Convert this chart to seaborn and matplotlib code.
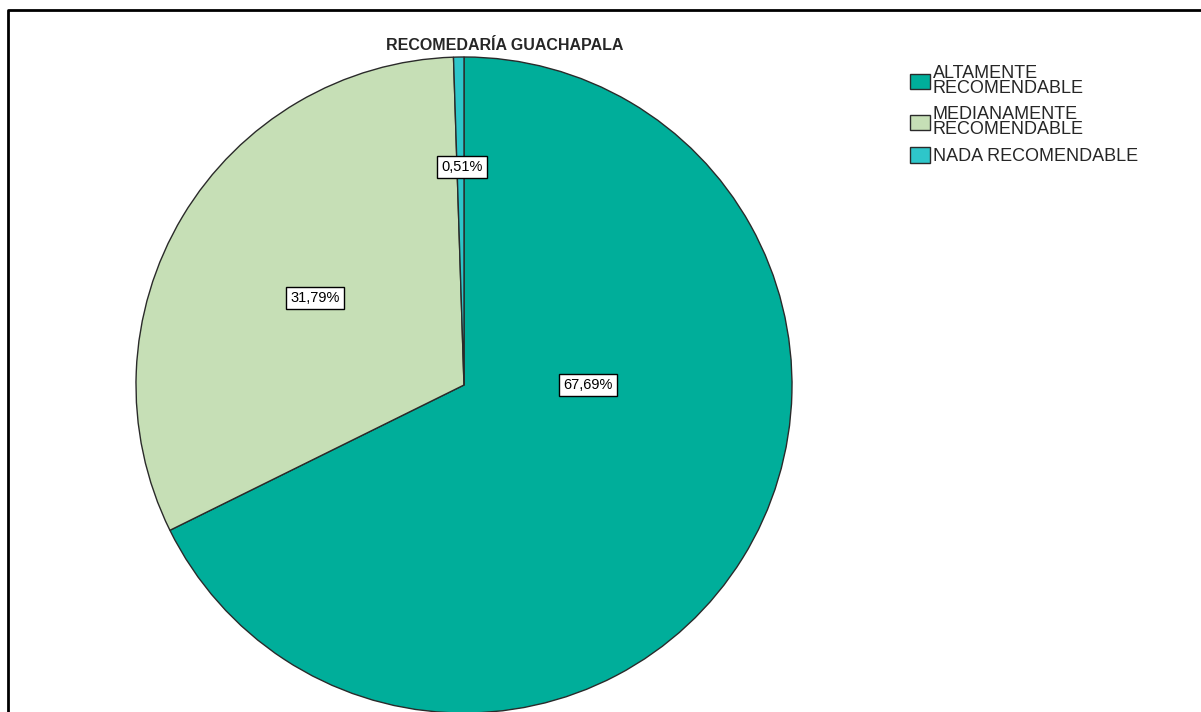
import matplotlib
matplotlib.use("Agg")
import matplotlib.pyplot as plt
import seaborn as sns

# Data
categories = ["ALTAMENTE\nRECOMENDABLE", "MEDIANAMENTE\nRECOMENDABLE", "NADA RECOMENDABLE"]
percentages = [67.69, 31.79, 0.51]
colors = ["#00AE9A", "#C6DFB6", "#2EC6CA"]
title = "RECOMEDARÍA GUACHAPALA"

# Set seaborn style, then fonts
sns.set_style("white")
plt.rcParams["font.family"] = ["Liberation Sans", "DejaVu Sans"]

W, H = 1201, 712
fig = plt.figure(figsize=(W / 100, H / 100), dpi=100)
ax = fig.add_axes([0, 0, 1, 1])

# Pie in pixel units
cx, cy, r = 464, H - 385, 328
wedges, _ = ax.pie(percentages, colors=colors, startangle=90, counterclock=False,
                   center=(cx, cy), radius=r, frame=True,
                   wedgeprops=dict(edgecolor="#2a2a2a", linewidth=1))
ax.set_xlim(0, W)
ax.set_ylim(0, H)
ax.set_aspect("equal")
ax.axis("off")

# Percentage labels (offsets from centre, in pixels)
label_offsets = [(124, 0), (-149, 87), (-2, 218)]
for pct, (dx, dy) in zip(percentages, label_offsets):
    ax.text(cx + dx, cy + dy, f"{pct:.2f}%".replace(".", ","), ha="center", va="center",
            fontsize=10.5, color="black",
            bbox=dict(boxstyle="square,pad=0.28", facecolor="white", edgecolor="black", linewidth=1))

# Title
ax.text(505, H - 45, title, ha="center", va="center", fontsize=11.5, fontweight="bold")

# Legend
leg = fig.legend(wedges, categories, loc="upper left", bbox_to_anchor=(910 / W, 1 - 65 / H),
                 frameon=False, fontsize=13, handlelength=1.1, handleheight=0.95,
                 handletextpad=0.15, labelspacing=0.5, borderpad=0, borderaxespad=0)
for t in leg.get_texts():
    t.set_linespacing(0.85)

# Border lines (top and left)
ax.plot([8, 8, W + 5], [-5, H - 10, H - 10], color="black", linewidth=2, clip_on=False)

fig.savefig("out.png", dpi=100)
